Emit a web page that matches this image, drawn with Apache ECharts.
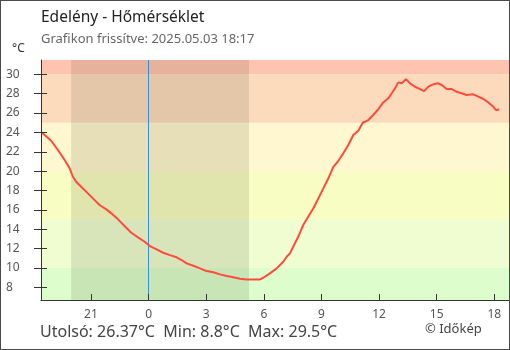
<!DOCTYPE html>
<html>
<head>
<meta charset="utf-8">
<script src="https://cdn.jsdelivr.net/npm/echarts@6/dist/echarts.min.js"></script>
<style>
html,body{margin:0;padding:0;background:#fff;}
#wrap{position:relative;width:510px;height:350px;}
#chart{position:absolute;left:0;top:0;width:510px;height:350px;}
#frame{position:absolute;left:0;top:0;width:510px;height:350px;box-sizing:border-box;border:1px solid #4a4a4a;pointer-events:none;}
</style>
</head>
<body>
<div id="wrap"><div id="chart"></div><div id="frame"></div></div>
<script>
// hours relative to midnight of 2025-05-03 (negative = previous evening)
const hours = [-5.6,-5.41,-5.07,-4.72,-4.37,-4.11,-3.94,-3.77,-3.51,-3.16,-2.81,-2.55,-2.20,-1.94,-1.59,-1.25,-0.90,-0.55,-0.20,0.07,0.42,0.76,1.11,1.46,1.72,1.98,2.33,2.68,3.02,3.37,3.72,4.07,4.41,4.76,5.11,5.45,5.80,5.97,6.32,6.67,7.01,7.19,7.36,7.53,7.79,8.05,8.31,8.58,8.84,9.10,9.36,9.62,9.88,10.14,10.40,10.66,10.92,11.15,11.44,11.70,11.96,12.22,12.48,12.66,12.83,13.00,13.18,13.40,13.61,13.87,14.13,14.34,14.56,14.82,15.08,15.26,15.52,15.78,16.04,16.30,16.56,16.91,17.17,17.43,17.69,17.95,18.09,18.26];
const temps = [24.04,23.73,23.14,22.18,21.15,20.29,19.42,18.9,18.39,17.7,17.01,16.5,16.05,15.64,15.02,14.33,13.64,13.16,12.71,12.26,11.92,11.57,11.33,11.1,10.82,10.47,10.23,9.96,9.68,9.55,9.34,9.16,9.03,8.88,8.82,8.8,8.82,8.99,9.44,9.96,10.64,11.16,11.51,12.19,13.22,14.43,15.29,16.16,17.19,18.22,19.26,20.45,21.07,21.84,22.7,23.73,24.17,25.0,25.28,25.8,26.41,27.1,27.52,28.04,28.55,29.17,29.07,29.5,29.07,28.72,28.48,28.27,28.72,28.97,29.07,28.9,28.48,28.48,28.2,28.04,27.86,27.93,27.69,27.45,27.1,26.65,26.31,26.37];
const xTicks = [-3,0,3,6,9,12,15,18];
const yTicks = [8,10,12,14,16,18,20,22,24,26,28,30];
const bandEdges = [6.69,10,15,20,25,30,31.48];
const bandColors = ['#ddfdcc','#effdd1','#f7fdc3','#fff7cf','#fcdbbd','#fec4b0'];
const nightStart = -4.03, nightEnd = 5.23;
const midnight = 0;
const titleText = 'Edelény - Hőmérséklet';
const subText = 'Grafikon frissítve: 2025.05.03 18:17';
const unitText = '°C';
const statsText = 'Utolsó: 26.37°C  Min: 8.8°C  Max: 29.5°C';
const creditText = '© Időkép';

const FONT = 'Noto Sans';
const chart = echarts.init(document.getElementById('chart'), null, {renderer:'canvas'});
const bands = [];
for (let i = 0; i < bandColors.length; i++) {
  bands.push([{yAxis: bandEdges[i], itemStyle:{color: bandColors[i]}}, {yAxis: bandEdges[i+1]}]);
}
const yCommon = {type:'value', min:6.69, max:31.48, splitLine:{show:false}, z:10};
chart.setOption({
  animation:false,
  grid:{left:41, right:1, top:60, bottom:50},
  xAxis:{type:'value', min:-5.6, max:18.765, z:10,
    axisLine:{onZero:false, lineStyle:{color:'#333', width:1}},
    axisTick:{inside:true, length:6, customValues:xTicks, lineStyle:{color:'#333'}},
    axisLabel:{customValues:xTicks, margin:9, color:'#555', fontSize:12, fontFamily:FONT,
      formatter: v => String(((v % 24) + 24) % 24)},
    splitLine:{show:false}},
  yAxis:[
    Object.assign({}, yCommon, {
      axisLine:{show:true, onZero:false, lineStyle:{color:'#333'}},
      axisTick:{show:true, inside:false, length:7, customValues:yTicks, lineStyle:{color:'#333'}},
      axisLabel:{customValues:yTicks, align:'left', margin:35, color:'#555', fontSize:12, fontFamily:FONT}
    }),
    Object.assign({}, yCommon, {position:'left',
      axisLine:{show:false, onZero:false},
      axisTick:{show:true, inside:true, length:6, customValues:yTicks, lineStyle:{color:'#333'}},
      axisLabel:{show:false}
    })
  ],
  graphic:[
    {type:'text', left:41, top:10, style:{text:titleText, font:'15.5px "Noto Sans"', fill:'#222'}},
    {type:'text', left:41, top:33, style:{text:subText, font:'13px "Noto Sans"', fill:'#666'}},
    {type:'text', left:12, top:43, style:{text:unitText, font:'12px "Noto Sans"', fill:'#333'}},
    {type:'text', left:40, top:324, style:{text:statsText, font:'16px "Noto Sans"', fill:'#444'}},
    {type:'text', left:425, top:323, style:{text:creditText, font:'13px "Noto Sans"', fill:'#444'}}
  ],
  series:[
    {type:'line', data:[], z:1, silent:true,
      markArea:{silent:true, data:bands},
      markLine:{silent:true, symbol:'none', label:{show:false}, lineStyle:{color:'#3a8fd4', width:1, type:'solid'}, data:[{xAxis:midnight}]}},
    {type:'line', data:[], z:2, silent:true,
      markArea:{silent:true, itemStyle:{color:'rgba(40,40,0,0.11)'}, data:[[{xAxis:nightStart},{xAxis:nightEnd}]]}},
    {type:'line', z:5, data:hours.map((h,i)=>[h,temps[i]]), showSymbol:false, smooth:false,
      lineStyle:{color:'#ff4a3d', width:2}}
  ]
});
</script>
</body>
</html>
